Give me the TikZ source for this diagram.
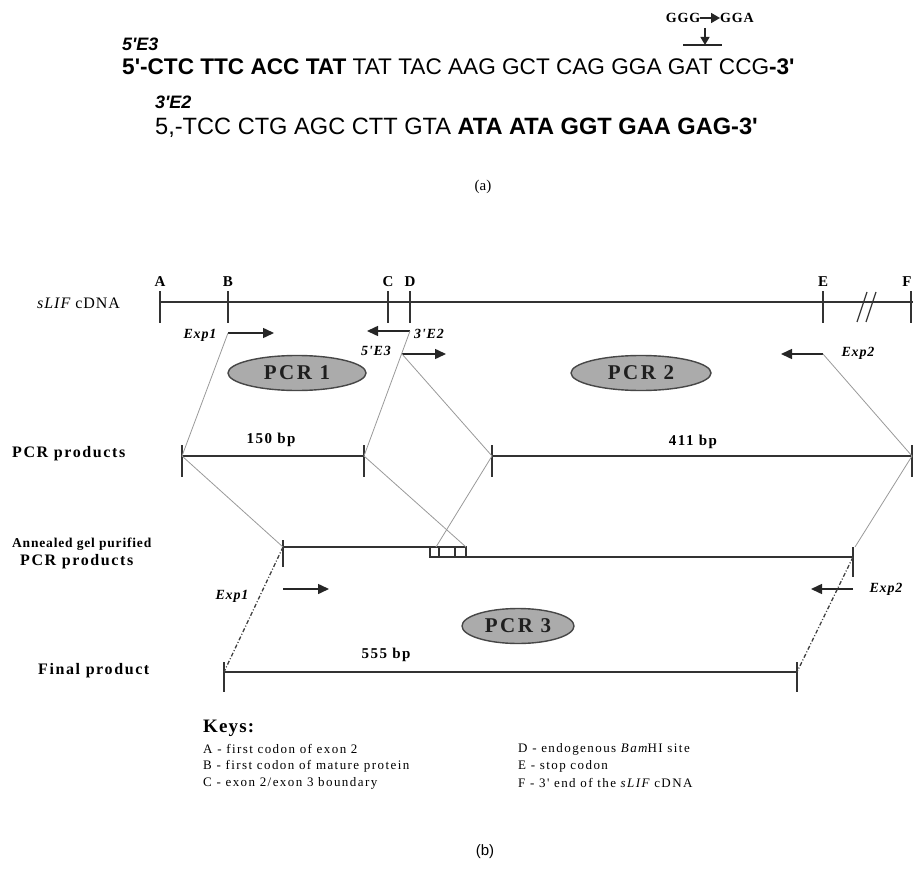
\documentclass[tikz,border=0pt]{standalone}
\usepackage{fontspec}
\setmainfont{Liberation Serif}
\newfontfamily\seqfont{Liberation Sans}
\newfontfamily\lsfont[LetterSpace=6]{Liberation Serif}
\newfontfamily\wsfont[LetterSpace=10]{Liberation Serif}
\newfontfamily\ksfont[LetterSpace=11]{Liberation Serif}
\newfontfamily\psfont[LetterSpace=12]{Liberation Serif}
\usetikzlibrary{arrows.meta,shapes.geometric}
\tikzset{
  dna/.style={draw=black!80, line width=1.4pt},
  guide/.style={draw=black!40, line width=0.8pt},
  dashguide/.style={draw=black!75, line width=1.3pt, dash pattern=on 4pt off 2pt on 1pt off 2pt},
  primer/.style={draw=black!85, line width=1.5pt, -{Triangle[length=11pt,width=10pt]}},
  pcr/.style={ellipse, draw=black!72, line width=1.4pt, fill=black!33, inner sep=0pt,
    text=black!88, font=\psfont\bfseries\fontsize{21}{21}\selectfont},
  site/.style={font=\lsfont\bfseries\fontsize{15}{15}\selectfont, inner sep=0pt},
  rowlbl/.style={font=\wsfont\bfseries\fontsize{16}{16}\selectfont, inner sep=0pt, anchor=west},
  prim/.style={font=\lsfont\bfseries\itshape\fontsize{14}{14}\selectfont, inner sep=0pt},
  bp/.style={font=\wsfont\bfseries\fontsize{15}{15}\selectfont, inner sep=0pt},
  keytxt/.style={font=\ksfont\fontsize{13}{13}\selectfont, inner sep=0pt, anchor=west},
  seq/.style={inner sep=0pt, anchor=west},
  seqhead/.style={font=\seqfont\bfseries\itshape\fontsize{18}{18}\selectfont, inner sep=0pt, anchor=west},
}
\begin{document}
\begin{tikzpicture}[x=1pt,y=-1pt]
\useasboundingbox (0,0) rectangle (913,872);
% ---------------- (a) ----------------
\node[font=\lsfont\bfseries\fontsize{14}{14}\selectfont, inner sep=0pt] (ggg) at (683,18) {GGG};
\node[font=\lsfont\bfseries\fontsize{14}{14}\selectfont, inner sep=0pt] (gga) at (737,18) {GGA};
\draw[black!85, line width=1.6pt, -{Triangle[length=9pt,width=10pt]}] (ggg.east) -- (gga.west);
\coordinate (mutTop) at (705,28);
\coordinate (mutBot) at (705,45);
\coordinate (ulL) at (683,45);
\coordinate (ulR) at (722,45);
\draw[black!85, line width=1.3pt, -{Triangle[length=8pt,width=9pt]}] (mutTop) -- (mutBot);
\draw[black!85, line width=1.2pt] (ulL) -- (ulR);
\node[seqhead] (h1) at (122,44) {5'E3};
\node[seq, font=\seqfont\fontsize{22.6}{22.6}\selectfont] (s1) at (122,67) {{\bfseries 5'-CTC TTC ACC TAT} TAT TAC AAG GCT CAG GGA GAT CCG{\bfseries -3'}};
\node[seqhead] (h2) at (155,102) {3'E2};
\node[seq, font=\seqfont\fontsize{23.6}{23.6}\selectfont] (s2) at (155,128) {5,-TCC CTG AGC CTT GTA {\bfseries ATA ATA GGT GAA GAG-3'}};
\node[font=\fontsize{15}{15}\selectfont, inner sep=0pt] (capa) at (483,187) {(a)};
% ---------------- (b) cDNA ----------------
\node[font=\lsfont\fontsize{16}{16}\selectfont, inner sep=0pt, anchor=west] (cdna) at (37,303) {{\itshape sLIF} cDNA};
\coordinate (A) at (160,302);
\coordinate (B) at (228,302);
\coordinate (C) at (388,302);
\coordinate (D) at (410,302);
\coordinate (E) at (823,302);
\coordinate (F) at (911,302);
\coordinate (Fend) at (913,302);
\draw[dna] (A) -- (Fend);
\foreach \p in {A,B,C,D,E,F} {
  \draw[dna] (\p) ++(0,-11) -- ++(0,32);
}
\foreach \p in {A,B,C,D,E} {
  \node[site] (l\p) at ([yshift=20pt]\p) {\p};
}
\node[site] (lF) at (907,282) {F};
\coordinate (sl1a) at (857,322); \coordinate (sl1b) at (867,292);
\coordinate (sl2a) at (866,322); \coordinate (sl2b) at (876,292);
\draw[dna, line width=1.2pt] (sl1a) -- (sl1b);
\draw[dna, line width=1.2pt] (sl2a) -- (sl2b);
% primers
\coordinate (e1s) at (228,333); \coordinate (e1e) at (274,333);
\draw[primer] (e1s) -- (e1e);
\node[prim] (e1lab) at (200,335) {Exp1};
\coordinate (e3s) at (410,331); \coordinate (e3e) at (367,331);
\draw[primer] (e3s) -- (e3e);
\node[prim] (e3lab) at (376,351) {5'E3};
\coordinate (e2s) at (402,354); \coordinate (e2e) at (446,354);
\draw[primer] (e2s) -- (e2e);
\node[prim] (e2lab) at (429,334) {3'E2};
\coordinate (x2s) at (823,354); \coordinate (x2e) at (781,354);
\draw[primer] (x2s) -- (x2e);
\node[prim] (x2lab) at (858,353) {Exp2};
% PCR ellipses
\node[pcr, minimum width=138pt, minimum height=35pt] (pcr1) at (297,373) {PCR 1};
\node[pcr, minimum width=140pt, minimum height=35pt] (pcr2) at (641,373) {PCR 2};
\node[pcr, minimum width=112pt, minimum height=35pt] (pcr3) at (518,626) {PCR 3};
% PCR products
\node[rowlbl] (rowp) at (12,454) {PCR products};
\coordinate (P1L) at (182,456); \coordinate (P1R) at (364,456);
\coordinate (P2L) at (492,456); \coordinate (P2R) at (912,456);
\draw[dna] (P1L) -- (P1R);
\draw[dna] (P2L) -- (P2R);
\foreach \p in {P1L,P1R,P2L,P2R} { \draw[dna] (\p) ++(0,-11) -- ++(0,32); }
\node[bp] (bp150) at (271,440) {150 bp};
\node[bp] (bp411) at (693,442) {411 bp};
\draw[guide] (e1s) -- (P1L);
\draw[guide] (e3s) -- (P1R);
\draw[guide] (e2s) -- (P2L);
\draw[guide] (x2s) -- (P2R);
% annealed
\node[font=\lsfont\bfseries\fontsize{13.5}{13.5}\selectfont, inner sep=0pt, anchor=west] (rowa1) at (12,544) {Annealed gel purified};
\node[rowlbl] (rowa2) at (20,562) {PCR products};
\coordinate (AnL) at (283,547); \coordinate (AnUR) at (466,547);
\coordinate (AnLL) at (430,557); \coordinate (AnR) at (853,557);
\coordinate (bx1) at (439,547); \coordinate (bx1b) at (439,557);
\coordinate (bx2) at (455,547); \coordinate (bx2b) at (455,557);
\coordinate (An5) at (436,547); \coordinate (AnRt) at (855,547);
\draw[dna] (AnL) -- (AnUR);
\draw[dna] (AnLL) -- (AnR);
\draw[dna, line width=1.2pt] (AnLL) rectangle (AnUR);
\draw[dna, line width=1.2pt] (bx1) -- (bx1b);
\draw[dna, line width=1.2pt] (bx2) -- (bx2b);
\draw[dna] (AnL) ++(0,-7) -- ++(0,27);
\draw[dna] (AnR) ++(0,-10) -- ++(0,30);
\draw[guide] (P1L) -- (AnL);
\draw[guide] (P1R) -- (AnUR);
\draw[guide] (P2L) -- (An5);
\draw[guide] (P2R) -- (AnRt);
% lower primers
\coordinate (f1s) at (283,589); \coordinate (f1e) at (329,589);
\draw[primer] (f1s) -- (f1e);
\node[prim] (f1lab) at (232,596) {Exp1};
\coordinate (f2s) at (853,589); \coordinate (f2e) at (811,589);
\draw[primer] (f2s) -- (f2e);
\node[prim] (f2lab) at (886,589) {Exp2};
% final
\node[rowlbl] (rowf) at (38,671) {Final product};
\coordinate (FL) at (224,672); \coordinate (FR) at (797,672);
\draw[dna] (FL) -- (FR);
\draw[dna] (FL) ++(0,-10) -- ++(0,30);
\draw[dna] (FR) ++(0,-10) -- ++(0,30);
\node[bp] (bp555) at (386,655) {555 bp};
\draw[dashguide] (AnL) -- (FL);
\draw[dashguide] (AnR) -- (FR);
% keys
\node[font=\lsfont\bfseries\fontsize{19}{19}\selectfont, inner sep=0pt, anchor=west] (keys) at (203,728) {Keys:};
\node[keytxt] (kA) at (203,749) {A - first codon of exon 2};
\node[keytxt] (kB) at (203,766) {B - first codon of mature protein};
\node[keytxt] (kC) at (203,783) {C - exon 2/exon 3 boundary};
\node[keytxt] (kD) at (518,749) {D - endogenous {\itshape Bam}HI site};
\node[keytxt] (kE) at (518,766) {E - stop codon};
\node[keytxt] (kF) at (518,783) {F - 3' end of the {\itshape sLIF} cDNA};
\node[font=\seqfont\fontsize{15}{15}\selectfont, inner sep=0pt] (capb) at (485,852) {(b)};
\end{tikzpicture}
\end{document}
